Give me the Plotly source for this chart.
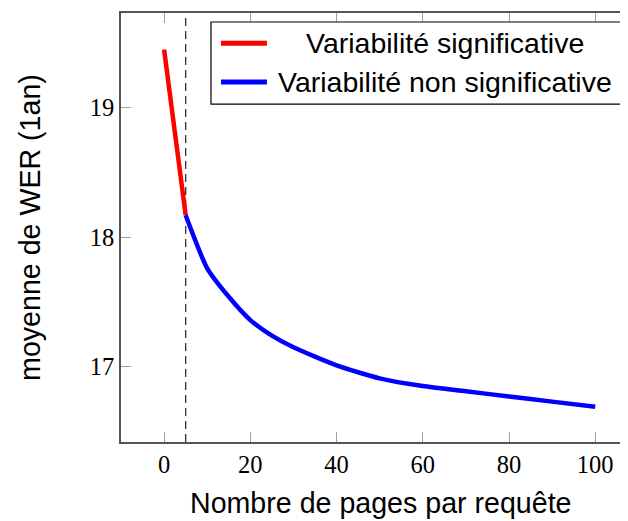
import plotly.graph_objects as go

# Data
sig_x = [0, 5]
sig_y = [19.45, 18.17]
nonsig_x = [5, 10, 15, 20, 25, 30, 40, 50, 60, 70, 80, 90, 100]
nonsig_y = [18.17, 17.76, 17.54, 17.36, 17.24, 17.15, 17.01, 16.91, 16.85, 16.81, 16.77, 16.73, 16.69]
threshold_x = 5
x_ticks = [0, 20, 40, 60, 80, 100]
y_ticks = [17, 18, 19]
legend_labels = ["Variabilité significative", "Variabilité non significative"]
x_title = "Nombre de pages par requête"
y_title = "moyenne de WER (1an)"

RED = "#ff0000"
BLUE = "#0000ff"
SANS = "Liberation Sans, Arial, sans-serif"
SERIF = "Liberation Serif, DejaVu Serif, serif"

# page offset of the plot div (browser body margin)
OFF = 8
# plot area geometry in page pixels
PL, PR, PT, PB = 120.65, 628.0, 12.7, 442.3
W, H = 628 - OFF, 521 - OFF
L, R, T, B = PL - OFF, PR - OFF, PT - OFF, PB - OFF


def px(xp):
    return (xp - PL) / (PR - PL)


def py(yp):
    return (PB - yp) / (PB - PT)


fig = go.Figure()
fig.add_trace(go.Scatter(x=sig_x, y=sig_y, mode="lines",
                         line=dict(color=RED, width=4.5), name=legend_labels[0],
                         showlegend=False))
fig.add_trace(go.Scatter(x=nonsig_x, y=nonsig_y, mode="lines",
                         line=dict(color=BLUE, width=4.5, shape="spline", smoothing=0.6),
                         name=legend_labels[1], showlegend=False))

shapes = [
    dict(type="line", xref="x", yref="paper", x0=threshold_x, x1=threshold_x, y0=0, y1=1,
         line=dict(color="#333333", width=1.3, dash="8px,5px"), layer="below"),
    dict(type="rect", xref="paper", yref="paper", x0=px(210.7), x1=px(627), y0=py(104), y1=py(21.7),
         line=dict(color="#000000", width=1.2), fillcolor="white"),
    dict(type="line", xref="paper", yref="paper", x0=px(220.7), x1=px(266.7), y0=py(43), y1=py(43),
         line=dict(color=RED, width=5)),
    dict(type="line", xref="paper", yref="paper", x0=px(220.7), x1=px(266.7), y0=py(81.7), y1=py(81.7),
         line=dict(color=BLUE, width=5)),
]

annotations = [
    dict(xref="paper", yref="paper", x=px(444.5), y=py(43), text=legend_labels[0], showarrow=False,
         xanchor="center", yanchor="middle", font=dict(family=SANS, size=28.5, color="black")),
    dict(xref="paper", yref="paper", x=px(444.5), y=py(81.7), text=legend_labels[1], showarrow=False,
         xanchor="center", yanchor="middle", font=dict(family=SANS, size=28.5, color="black")),
    dict(xref="paper", yref="paper", x=px(381), y=py(503), text=x_title, showarrow=False,
         xanchor="center", yanchor="middle", font=dict(family=SANS, size=28.6, color="black")),
    dict(xref="paper", yref="paper", x=px(29), y=py(227.5), text=y_title, showarrow=False,
         textangle=-90, xanchor="center", yanchor="middle",
         font=dict(family=SANS, size=28.6, color="black")),
]

fig.update_layout(
    width=W, height=H,
    margin=dict(l=L, r=W - R, t=T, b=H - B, pad=0, autoexpand=False),
    plot_bgcolor="white", paper_bgcolor="white",
    shapes=shapes, annotations=annotations,
    showlegend=False,
)
fig.update_xaxes(
    range=[-10, 107.6], tickvals=x_ticks, ticks="inside", ticklen=10, tickwidth=1.3,
    tickcolor="#a0a0a0", showline=True, linecolor="#555555", linewidth=1.6, mirror="ticks",
    showgrid=False, zeroline=False, automargin=False,
    tickfont=dict(family=SERIF, size=24.5, color="black"),
)
fig.update_yaxes(
    range=[16.418, 19.733], tickvals=y_ticks, ticks="inside", ticklen=10, tickwidth=1.3,
    tickcolor="#a0a0a0", showline=True, linecolor="#555555", linewidth=1.6, mirror=False,
    showgrid=False, zeroline=False, automargin=False,
    tickfont=dict(family=SERIF, size=24.5, color="black"),
)

fig.write_html("out.html")
